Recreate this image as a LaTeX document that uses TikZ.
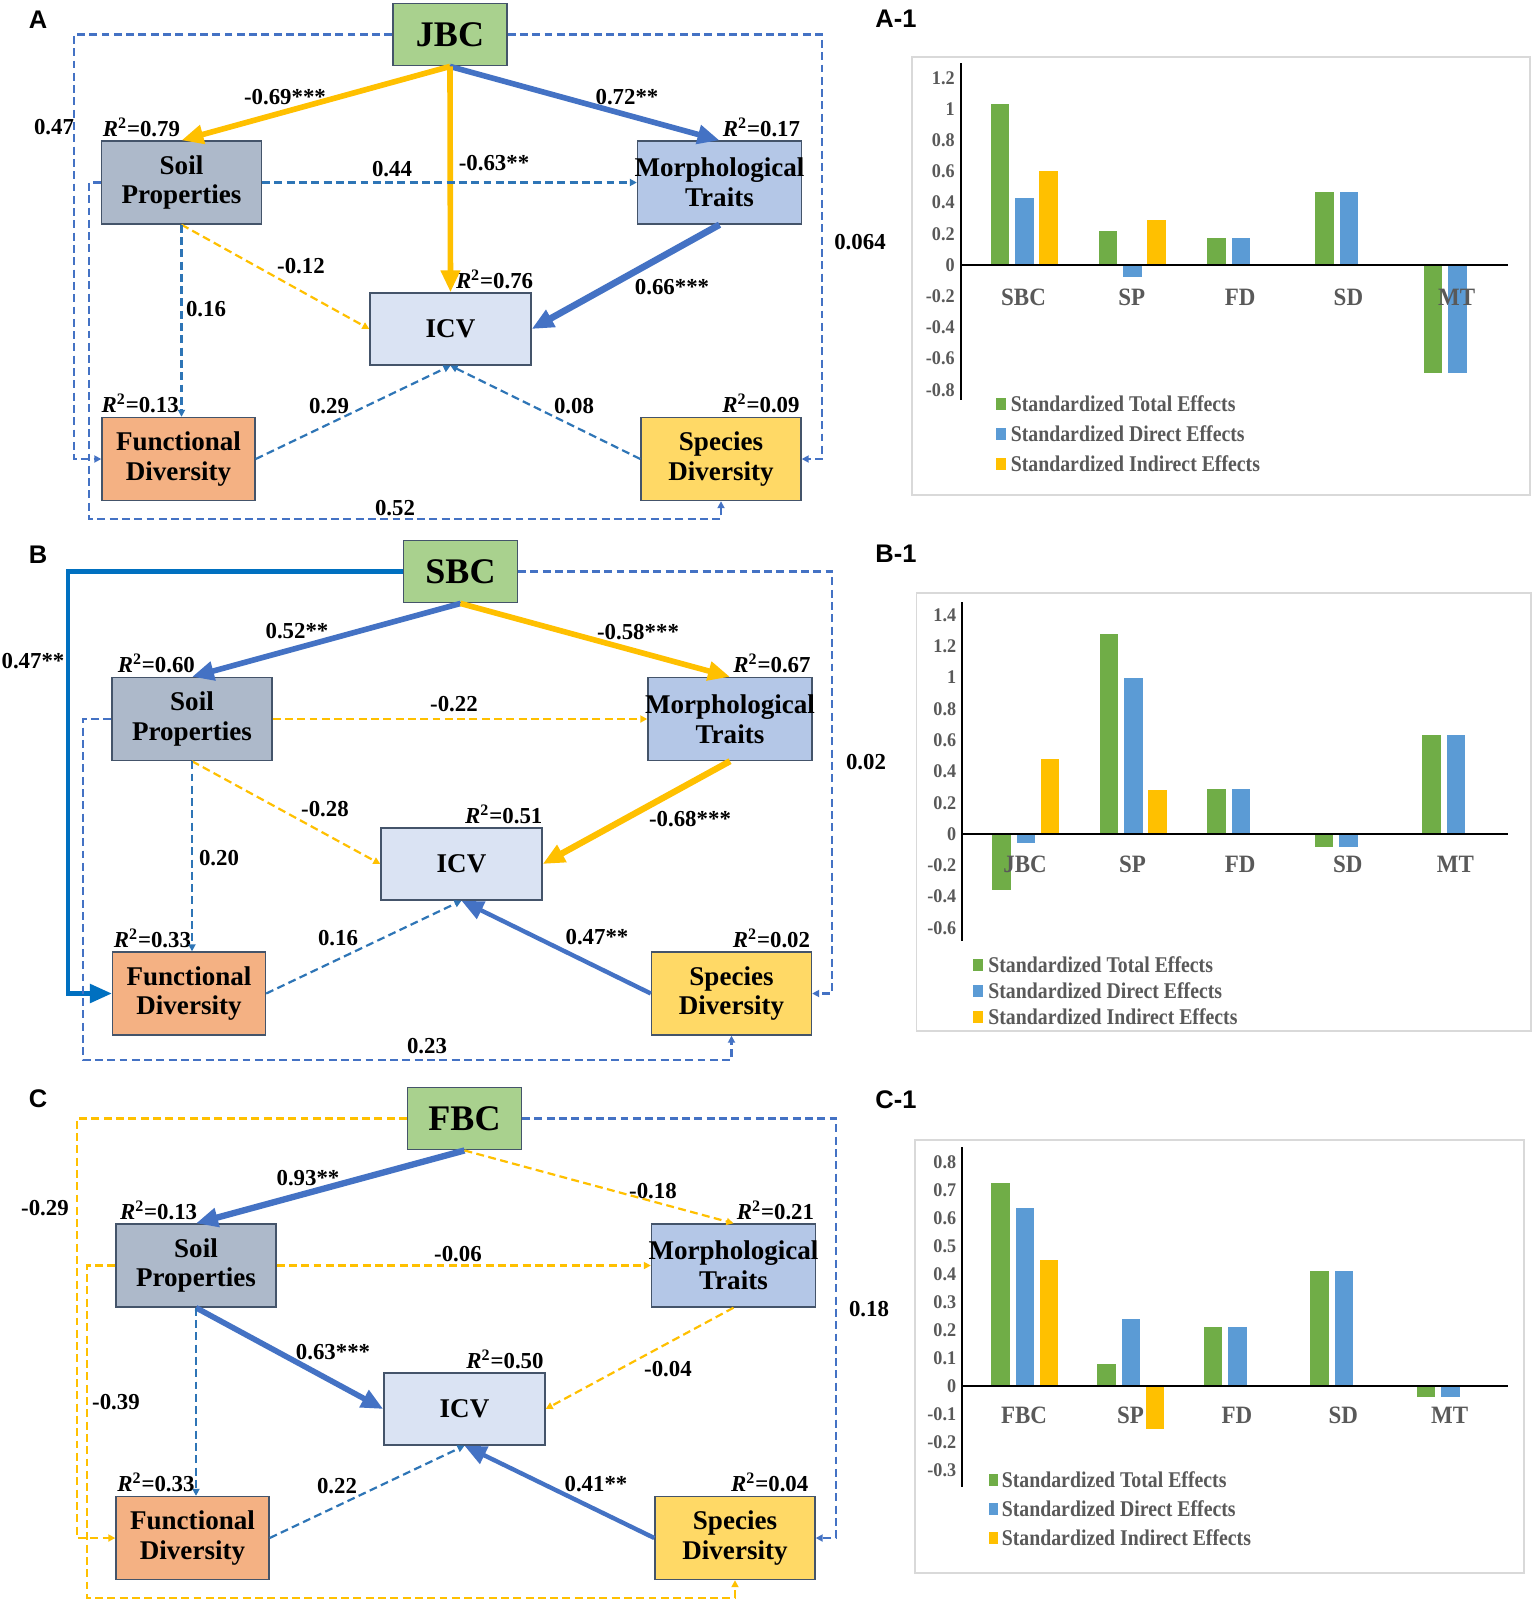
\documentclass[tikz,border=0pt]{standalone}
\usepackage{fontspec}
\usepackage{graphicx}
\setmainfont{Liberation Serif}
\newfontfamily\panelfont{Liberation Sans}
\usetikzlibrary{arrows.meta}

\definecolor{boxline}{HTML}{44546A}
\definecolor{bcgreen}{HTML}{A9D18E}
\definecolor{spgray}{HTML}{ADB9CA}
\definecolor{mtblue}{HTML}{B4C7E7}
\definecolor{icvblue}{HTML}{DAE3F3}
\definecolor{fdorange}{HTML}{F4B183}
\definecolor{sdyellow}{HTML}{FFD966}
\definecolor{pathblue}{HTML}{4472C4}
\definecolor{pathyellow}{HTML}{FFC000}
\definecolor{dashblue}{HTML}{2E75B6}
\definecolor{solidblue}{HTML}{0070C0}
\definecolor{bargreen}{HTML}{70AD47}
\definecolor{barblue}{HTML}{5B9BD5}
\definecolor{bargold}{HTML}{FFC000}
\definecolor{charttext}{HTML}{595959}
\definecolor{chartframe}{HTML}{D9D9D9}

\newcommand{\rsq}[1]{\textit{R}\textsuperscript{2}=#1}
\newcommand{\narrow}[2]{\scalebox{#1}[1]{#2}}

\begin{document}
\begin{tikzpicture}[
  x=0.02cm, y=-0.02cm,
  var/.style={draw=boxline, line width=0.8pt, align=center, inner sep=0pt,
    minimum width=3.2cm, minimum height=1.66cm, font=\fontsize{15.4}{17}\selectfont\bfseries},
  root/.style={var, fill=bcgreen, minimum width=2.28cm, minimum height=1.25cm,
    font=\fontsize{20.5}{22}\selectfont\bfseries},
  soil/.style={var, fill=spgray},
  morph/.style={var, fill=mtblue, minimum width=3.28cm},
  icv/.style={var, fill=icvblue, minimum width=3.22cm, minimum height=1.44cm},
  func/.style={var, fill=fdorange, minimum width=3.06cm},
  spec/.style={var, fill=sdyellow},
  coef/.style={inner sep=0pt, font=\fontsize{13}{13}\selectfont\bfseries},
  rleft/.style={coef, anchor=south west, xshift=1pt, yshift=2pt},
  rright/.style={coef, anchor=south east, xshift=-1pt, yshift=2pt},
  plabel/.style={inner sep=0pt, font=\panelfont\fontsize{14.5}{15}\selectfont\bfseries},
  strong/.style={line width=3.2pt, -{Triangle[length=12.5pt,width=10.5pt]}},
  weak/.style={line width=1.25pt, dash pattern=on 4.5pt off 2.5pt, -{Triangle[length=4pt,width=4pt]}},
  tick/.style={anchor=east, inner sep=0pt, text=charttext, font=\fontsize{11}{11}\selectfont\bfseries},
  cat/.style={inner sep=0pt, text=charttext, font=\fontsize{14.2}{15}\selectfont\bfseries},
  legend/.style={anchor=west, inner sep=0pt, text=charttext, font=\fontsize{12.8}{13}\selectfont\bfseries},
  axisline/.style={line width=1.1pt},
]
\useasboundingbox[fill=white] (0,0) rectangle (1535,1614);

% ---------------- panel A ----------------
\node[plabel] (pA) at (38,20) {A};
\node[root] (jbc) at (450,34.5) {JBC};
\node[soil] (spA) at (181.5,182.5) {Soil\\Properties};
\node[morph] (mtA) at (719.5,182.5) {\makebox[0pt]{Morphological}\\Traits};
\node[icv] (icvA) at (450.5,329) {ICV};
\node[func] (fdA) at (178.5,459) {Functional\\Diversity};
\node[spec] (sdA) at (721,459) {Species\\Diversity};

\node[rleft] (rspA) at (spA.north west) {\rsq{0.79}};
\node[rright] (rmtA) at (mtA.north east) {\rsq{0.17}};
\node[rright, xshift=2pt] (ricvA) at (icvA.north east) {\rsq{0.76}};
\node[rleft, xshift=-1pt] (rfdA) at (fdA.north west) {\rsq{0.13}};
\node[rright] (rsdA) at (sdA.north east) {\rsq{0.09}};

\coordinate (lA) at (74,459);
\coordinate (rA) at (822,459);
\coordinate (bA) at (89,519);
\draw[weak, pathblue] (jbc.west) -| (lA) -- (fdA.west);
\draw[weak, pathblue] (jbc.east) -| (rA) -- (sdA.east);
\draw[weak, pathblue] (spA.west) -| (bA) -| (sdA.south);
\draw[strong, pathyellow] (jbc.south) -- (spA.north);
\draw[strong, pathblue] (jbc.south) -- (mtA.north);
\draw[strong, pathyellow] (jbc.south) -- (icvA.north);
\draw[weak, dashblue] (spA.east) -- (mtA.west);
\draw[weak, pathyellow] (spA.south) -- (icvA.west);
\draw[weak, dashblue] (spA.south) -- (spA.south |- fdA.north);
\draw[strong, pathblue, line width=3.8pt] (mtA.south) -- (icvA.east);
\draw[weak, dashblue] (fdA.east) -- (icvA.south);
\draw[weak, dashblue] (sdA.west) -- (icvA.south);

\node[coef] (eA1) at (54,127) {0.47};
\node[coef] (eA2) at (285,97) {-0.69***};
\node[coef] (eA3) at (627,97) {0.72**};
\node[coef] (eA4) at (494,163) {-0.63**};
\node[coef] (eA5) at (392,169) {0.44};
\node[coef] (eA6) at (301,266) {-0.12};
\node[coef] (eA7) at (206,309) {0.16};
\node[coef] (eA8) at (672,287) {0.66***};
\node[coef] (eA9) at (860,242) {0.064};
\node[coef] (eA10) at (329,406) {0.29};
\node[coef] (eA11) at (574,406) {0.08};
\node[coef] (eA12) at (395,508) {0.52};

% ---------------- panel B ----------------
\node[plabel] (pB) at (38,555) {B};
\node[root] (sbc) at (460.5,571.5) {SBC};
\node[soil] (spB) at (192,719) {Soil\\Properties};
\node[morph] (mtB) at (730,719) {\makebox[0pt]{Morphological}\\Traits};
\node[icv] (icvB) at (461.5,864) {ICV};
\node[func] (fdB) at (189,993.5) {Functional\\Diversity};
\node[spec] (sdB) at (731.5,993.5) {Species\\Diversity};

\node[rleft, xshift=2.5pt] (rspB) at (spB.north west) {\rsq{0.60}};
\node[rright] (rmtB) at (mtB.north east) {\rsq{0.67}};
\node[rright, xshift=1pt] (ricvB) at (icvB.north east) {\rsq{0.51}};
\node[rleft] (rfdB) at (fdB.north west) {\rsq{0.33}};
\node[rright] (rsdB) at (sdB.north east) {\rsq{0.02}};

\coordinate (lB) at (68,993.5);
\coordinate (rB) at (832,993.5);
\coordinate (bB) at (83,1060);
\draw[strong, solidblue, line width=2.4pt] (sbc.west) -| (lB) -- (fdB.west);
\draw[weak, pathblue] (sbc.east) -| (rB) -- (sdB.east);
\draw[weak, pathblue] (spB.west) -| (bB) -| (sdB.south);
\draw[strong, pathblue] (sbc.south) -- (spB.north);
\draw[strong, pathyellow] (sbc.south) -- (mtB.north);
\draw[weak, pathyellow] (spB.east) -- (mtB.west);
\draw[weak, pathyellow] (spB.south) -- (icvB.west);
\draw[weak, dashblue] (spB.south) -- (spB.south |- fdB.north);
\draw[strong, pathyellow, line width=3.6pt] (mtB.south) -- (icvB.east);
\draw[weak, dashblue] (fdB.east) -- (icvB.south);
\draw[strong, pathblue, line width=2.5pt] (sdB.west) -- (icvB.south);

\node[coef] (eB1) at (33,661) {0.47**};
\node[coef] (eB2) at (297,631) {0.52**};
\node[coef] (eB3) at (638,632) {-0.58***};
\node[coef] (eB4) at (454,704) {-0.22};
\node[coef] (eB5) at (325,809) {-0.28};
\node[coef] (eB6) at (219,858) {0.20};
\node[coef] (eB7) at (690,819) {-0.68***};
\node[coef] (eB8) at (866,762) {0.02};
\node[coef] (eB9) at (338,938) {0.16};
\node[coef] (eB10) at (597,937) {0.47**};
\node[coef] (eB11) at (427,1046) {0.23};

% ---------------- panel C ----------------
\node[plabel] (pC) at (38,1099) {C};
\node[root] (fbc) at (464.5,1118.5) {FBC};
\node[soil] (spC) at (196,1265.5) {Soil\\Properties};
\node[morph] (mtC) at (733.5,1265.5) {\makebox[0pt]{Morphological}\\Traits};
\node[icv] (icvC) at (464.5,1409) {ICV};
\node[func] (fdC) at (192.5,1538) {Functional\\Diversity};
\node[spec] (sdC) at (735,1538) {Species\\Diversity};

\node[rleft, xshift=1.5pt] (rspC) at (spC.north west) {\rsq{0.13}};
\node[rright] (rmtC) at (mtC.north east) {\rsq{0.21}};
\node[rright, xshift=0pt] (ricvC) at (icvC.north east) {\rsq{0.50}};
\node[rleft] (rfdC) at (fdC.north west) {\rsq{0.33}};
\node[rright, xshift=-3pt] (rsdC) at (sdC.north east) {\rsq{0.04}};

\coordinate (lC) at (77,1538);
\coordinate (rC) at (836,1538);
\coordinate (bC) at (87,1598);
\draw[weak, pathyellow] (fbc.west) -| (lC) -- (fdC.west);
\draw[weak, pathblue] (fbc.east) -| (rC) -- (sdC.east);
\draw[weak, pathyellow] (spC.west) -| (bC) -| (sdC.south);
\draw[strong, pathblue, line width=3.6pt] (fbc.south) -- (spC.north);
\draw[weak, pathyellow] (fbc.south) -- (mtC.north);
\draw[weak, pathyellow] (spC.east) -- (mtC.west);
\draw[strong, pathblue] (spC.south) -- (icvC.west);
\draw[weak, dashblue] (spC.south) -- (spC.south |- fdC.north);
\draw[weak, pathyellow] (mtC.south) -- (icvC.east);
\draw[weak, dashblue] (fdC.east) -- (icvC.south);
\draw[strong, pathblue, line width=2.5pt] (sdC.west) -- (icvC.south);

\node[coef] (eC1) at (45,1208) {-0.29};
\node[coef] (eC2) at (308,1178) {0.93**};
\node[coef] (eC3) at (653,1191) {-0.18};
\node[coef] (eC4) at (458,1254) {-0.06};
\node[coef] (eC5) at (333,1352) {0.63***};
\node[coef] (eC6) at (116,1402) {-0.39};
\node[coef] (eC7) at (668,1369) {-0.04};
\node[coef] (eC8) at (869,1309) {0.18};
\node[coef] (eC9) at (337,1486) {0.22};
\node[coef] (eC10) at (596,1484) {0.41**};

% ---------------- chart A-1 ----------------
\node[plabel] (pA1) at (896,19) {A-1};
\draw[chartframe, line width=0.8pt] (912,57) rectangle (1530,495);
\def\zy{265}\def\un{156}\def\cx{1023.5}\def\dx{108.3}
\foreach \v [count=\k] in {1.2,1,0.8,0.6,0.4,0.2,0,-0.2,-0.4,-0.6,-0.8}
  \node[tick] (tA\k) at (955,{\zy-\un*(\v)}) {\narrow{0.94}{\v}};
\foreach \lab/\vt/\vd/\vi [count=\k from 0] in {SBC/1.03/0.43/0.60, SP/0.22/-0.08/0.29,
    FD/0.17/0.17/0, SD/0.47/0.47/0, MT/-0.69/-0.69/0} {
  \pgfmathsetmacro\x{\cx+\dx*\k}
  \fill[bargreen] (\x-33,\zy) rectangle ++(18.5,{-\un*(\vt)});
  \fill[barblue] (\x-8.5,\zy) rectangle ++(18.5,{-\un*(\vd)});
  \fill[bargold] (\x+15.5,\zy) rectangle ++(18.5,{-\un*(\vi)});
  \node[cat] (cA\k) at (\x,297) {\narrow{0.92}{\lab}};
}
\draw[axisline] (961,63) -- (961,400);
\draw[axisline] (961,\zy) -- (1508,\zy);
\foreach \col/\txt [count=\k from 0] in {bargreen/Total, barblue/Direct, bargold/Indirect} {
  \fill[\col] (996,{398+30*\k}) rectangle ++(9.5,12);
  \node[legend] (gA\k) at (1010.5,{404+30*\k}) {\narrow{0.88}{Standardized \txt\ Effects}};
}

% ---------------- chart B-1 ----------------
\node[plabel] (pB1) at (896,554) {B-1};
\draw[chartframe, line width=0.8pt] (916.5,593) rectangle (1531,1031);
\def\zy{834}\def\un{156.5}\def\cx{1025}\def\dx{107.6}
\foreach \v [count=\k] in {1.4,1.2,1,0.8,0.6,0.4,0.2,0,-0.2,-0.4,-0.6}
  \node[tick] (tB\k) at (956.5,{\zy-\un*(\v)}) {\narrow{0.94}{\v}};
\foreach \lab/\vt/\vd/\vi [count=\k from 0] in {JBC/-0.36/-0.06/0.48, SP/1.28/1.0/0.28,
    FD/0.29/0.29/0, SD/-0.08/-0.08/0, MT/0.63/0.63/0} {
  \pgfmathsetmacro\x{\cx+\dx*\k}
  \fill[bargreen] (\x-33,\zy) rectangle ++(18.5,{-\un*(\vt)});
  \fill[barblue] (\x-8.5,\zy) rectangle ++(18.5,{-\un*(\vd)});
  \fill[bargold] (\x+15.5,\zy) rectangle ++(18.5,{-\un*(\vi)});
  \node[cat] (cB\k) at (\x,864) {\narrow{0.92}{\lab}};
}
\draw[axisline] (962,602) -- (962,941);
\draw[axisline] (962,\zy) -- (1508,\zy);
\foreach \col/\txt [count=\k from 0] in {bargreen/Total, barblue/Direct, bargold/Indirect} {
  \fill[\col] (973,{959+26*\k}) rectangle ++(10,12);
  \node[legend] (gB\k) at (988,{965+26*\k}) {\narrow{0.88}{Standardized \txt\ Effects}};
}

% ---------------- chart C-1 ----------------
\node[plabel] (pC1) at (896,1100) {C-1};
\draw[chartframe, line width=0.8pt] (915,1140) rectangle (1524,1573);
\def\zy{1386}\def\un{280}\def\cx{1024}\def\dx{106.4}
\foreach \v [count=\k] in {0.8,0.7,0.6,0.5,0.4,0.3,0.2,0.1,0,-0.1,-0.2,-0.3}
  \node[tick] (tC\k) at (956.5,{\zy-\un*(\v)}) {\narrow{0.94}{\v}};
\foreach \lab/\vt/\vd/\vi [count=\k from 0] in {FBC/0.725/0.635/0.45, SP/0.08/0.24/-0.155,
    FD/0.21/0.21/0, SD/0.41/0.41/0, MT/-0.04/-0.04/0} {
  \pgfmathsetmacro\x{\cx+\dx*\k}
  \fill[bargreen] (\x-33,\zy) rectangle ++(18.5,{-\un*(\vt)});
  \fill[barblue] (\x-8.5,\zy) rectangle ++(18.5,{-\un*(\vd)});
  \fill[bargold] (\x+15.5,\zy) rectangle ++(18.5,{-\un*(\vi)});
  \node[cat] (cC\k) at (\x,1415) {\narrow{0.92}{\lab}};
}
\draw[axisline] (962,1147) -- (962,1487);
\draw[axisline] (962,\zy) -- (1508,\zy);
\foreach \col/\txt [count=\k from 0] in {bargreen/Total, barblue/Direct, bargold/Indirect} {
  \fill[\col] (988.5,{1474+29*\k}) rectangle ++(9.5,12);
  \node[legend] (gC\k) at (1001.5,{1480+29*\k}) {\narrow{0.88}{Standardized \txt\ Effects}};
}
\end{tikzpicture}
\end{document}
